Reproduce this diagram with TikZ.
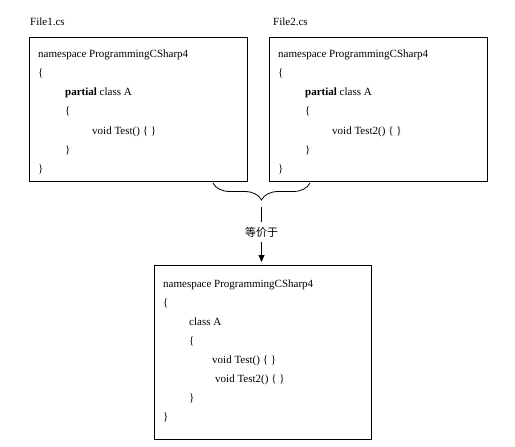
\documentclass[tikz,border=0pt]{standalone}
\usepackage{fontspec}
\setmainfont{Liberation Serif}
\newfontfamily\cjk{Noto Sans CJK SC}
\usetikzlibrary{arrows.meta,decorations.pathreplacing}
\begin{document}
\begin{tikzpicture}[x=1pt,y=-1pt,
  codebox/.style={draw,line width=0.8pt,minimum width=#1,anchor=north west,inner sep=0pt},
  code/.style={anchor=base west,inner sep=0pt,font=\fontsize{11}{13}\selectfont},
  lbl/.style={anchor=base west,inner sep=0pt,font=\fontsize{11}{13}\selectfont}]
\useasboundingbox (0,0) rectangle (515,447);
% boxes
\node[codebox=218pt,minimum height=144pt] (b1) at (29,37) {};
\node[codebox=218pt,minimum height=144pt] (b2) at (269,37) {};
\node[codebox=217pt,minimum height=174pt] (b3) at (154,265) {};
% file labels
\node[lbl] (f1) at (30,26) {File1.cs};
\node[lbl] (f2) at (273,26) {File2.cs};
% box 1 text
\node[code] (a1) at (38,57) {namespace ProgrammingCSharp4};
\node[code] (a2) at (38,76.3) {\{};
\node[code] (a3) at (65,95.6) {\textbf{partial} class A};
\node[code] (a4) at (65,114.9) {\{};
\node[code] (a5) at (92,134.2) {void Test() \{ \}};
\node[code] (a6) at (65,153.5) {\}};
\node[code] (a7) at (38,172.8) {\}};
% box 2 text
\node[code] (c1) at (278,57) {namespace ProgrammingCSharp4};
\node[code] (c2) at (278,76.3) {\{};
\node[code] (c3) at (305,95.6) {\textbf{partial} class A};
\node[code] (c4) at (305,114.9) {\{};
\node[code] (c5) at (332,134.2) {void Test2() \{ \}};
\node[code] (c6) at (305,153.5) {\}};
\node[code] (c7) at (278,172.8) {\}};
% box 3 text
\node[code] (d1) at (163,287) {namespace ProgrammingCSharp4};
\node[code] (d2) at (163,306) {\{};
\node[code] (d3) at (189,325) {class A};
\node[code] (d4) at (189,344) {\{};
\node[code] (d5) at (212,363) {void Test() \{ \}};
\node[code] (d6) at (215,382) {void Test2() \{ \}};
\node[code] (d7) at (189,401) {\}};
\node[code] (d8) at (163,420) {\}};
% brace
\coordinate (br) at (310,183);
\coordinate (bl) at (213,183);
\coordinate (tip) at (261.5,201);
\draw[line width=0.8pt,decorate,decoration={brace,amplitude=17pt,aspect=0.5}] (br) -- (bl);
% label and arrow
\node[inner sep=0pt,font=\cjk\fontsize{11}{13}\selectfont] (eq) at (261.5,232) {等价于};
\draw[line width=0.8pt,shorten <=6pt,shorten >=5pt] (tip) -- (eq.north);
\draw[line width=0.8pt,shorten <=5pt,shorten >=3pt,-{Triangle[length=7pt,width=6pt]}] (eq.south) -- (b3.north -| eq);
\end{tikzpicture}
\end{document}
